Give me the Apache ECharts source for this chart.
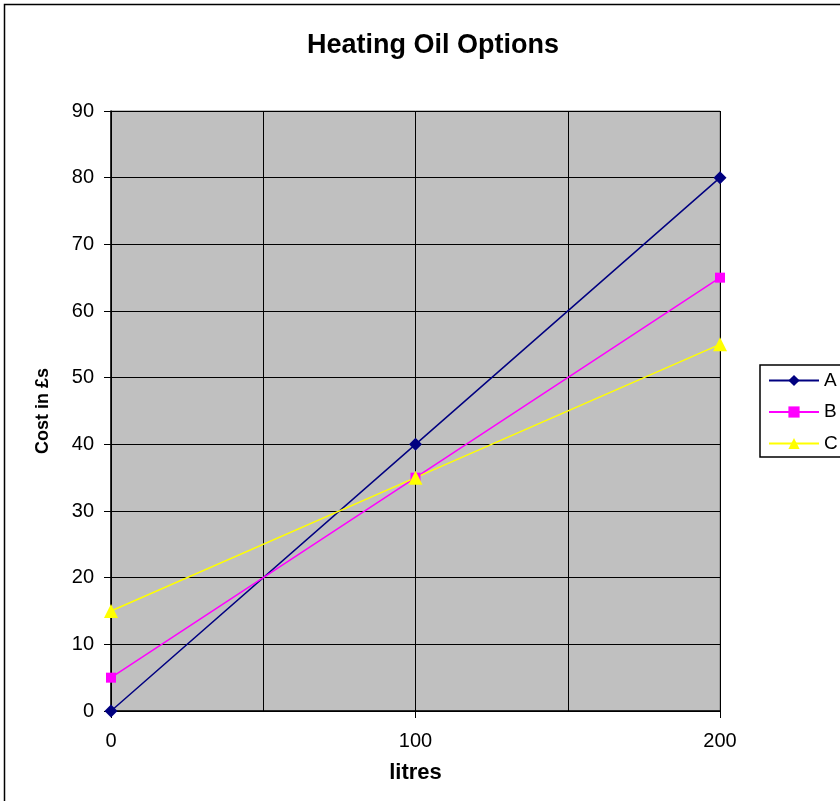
<!DOCTYPE html>
<html><head><meta charset="utf-8">
<script src="https://cdn.jsdelivr.net/npm/echarts@6/dist/echarts.min.js"></script>
<style>html,body{margin:0;padding:0;background:#fff}#c{width:840px;height:801px}</style>
</head><body><div id="c"></div>
<script>
const xValues = [0, 100, 200];
const seriesA = [0, 40, 80];
const seriesB = [5, 35, 65];
const seriesC = [15, 35, 55];
const seriesNames = ['A', 'B', 'C'];
const titleText = 'Heating Oil Options';
const xName = 'litres';
const yName = 'Cost in £s';

const chart = echarts.init(document.getElementById('c'), null, {renderer: 'canvas'});
const font = 'Arial, "Liberation Sans", sans-serif';
const mk = (vals) => xValues.map((x, i) => [x, vals[i]]);
chart.setOption({
  animation: false,
  backgroundColor: '#fff',
  title: {text: titleText, left: 302, top: 27, textStyle: {fontFamily: font, fontSize: 27, fontWeight: 'bold', color: '#000'}},
  graphic: [{type: 'rect', shape: {x: 4.5, y: 4.5, width: 900, height: 900}, style: {fill: 'none', stroke: '#000', lineWidth: 1.5}, z: -1}],
  legend: {
    orient: 'vertical', left: 760, top: 365, padding: [6, 12, 4, 8],
    borderColor: '#000', borderWidth: 1.5, backgroundColor: '#fff',
    itemWidth: 50, itemHeight: 14, itemGap: 12.5,
    textStyle: {fontFamily: font, fontSize: 19, color: '#000'},
    data: seriesNames
  },
  grid: {left: 111, right: 120, top: 111, bottom: 90, show: true, backgroundColor: '#c0c0c0', borderColor: '#808080', borderWidth: 1},
  xAxis: {
    type: 'value', min: 0, max: 200, interval: 100,
    name: xName, nameLocation: 'middle', nameGap: 51,
    nameTextStyle: {fontFamily: font, fontSize: 22, fontWeight: 'bold', color: '#000'},
    axisLine: {show: true, lineStyle: {color: '#000', width: 1.5}},
    axisTick: {show: true, length: 7, lineStyle: {color: '#000'}},
    axisLabel: {fontFamily: font, fontSize: 20, color: '#000', margin: 20},
    splitLine: {show: true, lineStyle: {color: '#000', width: 1}},
    minorTick: {show: false, splitNumber: 2},
    minorSplitLine: {show: true, lineStyle: {color: '#000', width: 1}}
  },
  yAxis: {
    type: 'value', min: 0, max: 90, interval: 10,
    name: yName, nameLocation: 'middle', nameGap: 59, nameRotate: 90,
    nameTextStyle: {fontFamily: font, fontSize: 18, fontWeight: 'bold', color: '#000'},
    axisLine: {show: true, lineStyle: {color: '#000', width: 1.5}},
    axisTick: {show: true, length: 7, lineStyle: {color: '#000'}},
    axisLabel: {fontFamily: font, fontSize: 20, color: '#000', margin: 17},
    splitLine: {show: true, lineStyle: {color: '#000', width: 1}}
  },
  series: [
    {name: seriesNames[0], type: 'line', data: mk(seriesA), symbol: 'diamond', symbolSize: 13, itemStyle: {color: '#000080'}, lineStyle: {color: '#000080', width: 1.5}},
    {name: seriesNames[1], type: 'line', data: mk(seriesB), symbol: 'rect', symbolSize: 10, itemStyle: {color: '#ff00ff'}, lineStyle: {color: '#ff00ff', width: 1.5}},
    {name: seriesNames[2], type: 'line', data: mk(seriesC), symbol: 'triangle', symbolSize: 14, itemStyle: {color: '#ffff00'}, lineStyle: {color: '#ffff00', width: 1.5}}
  ]
});
</script></body></html>
